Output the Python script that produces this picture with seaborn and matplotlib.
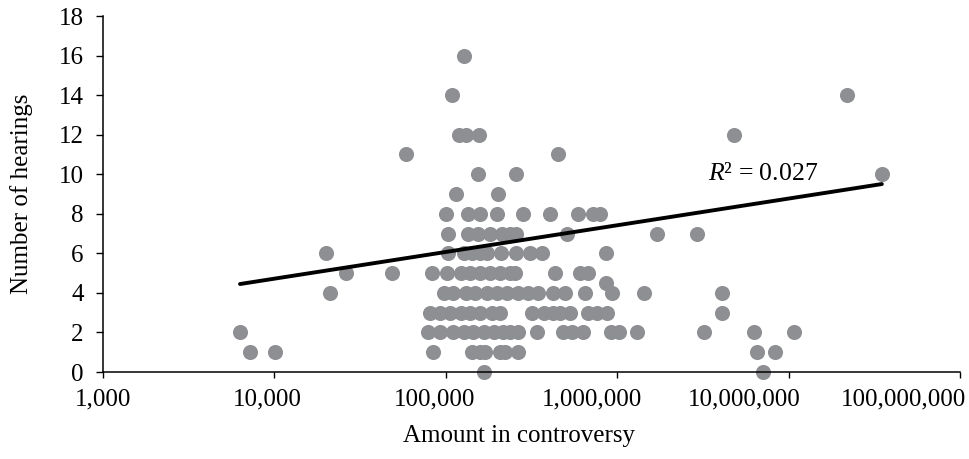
import numpy as np
import pandas as pd
import matplotlib
matplotlib.use("Agg")
import matplotlib.pyplot as plt
from matplotlib.ticker import FixedLocator, NullLocator
from matplotlib.transforms import ScaledTranslation
import seaborn as sns

# ------------------------------------------------------------------
# data (amount in controversy vs. hearings)
# ------------------------------------------------------------------
amount = [
    # y = 0
    168000, 7050000,
    # y = 1
    7200, 10100, 84600, 143000, 159000, 170000, 208000, 222000, 262000,
    6580000, 8300000,
    # y = 2
    6300, 79000, 93000, 110000, 127000, 145000, 166000, 190000, 217000,
    238000, 265000, 342000, 484000, 546000, 634000, 914000, 1020000,
    1310000, 3200000, 6280000, 10800000,
    # y = 3
    81000, 93000, 106000, 122000, 139000, 159000, 187000, 208000, 318000,
    372000, 424000, 465000, 532000, 678000, 764000, 873000, 4100000,
    # y = 4
    21200, 97000, 110000, 131000, 149000, 175000, 200000, 228000, 265000,
    303000, 346000, 424000, 497000, 652000, 936000, 1430000, 4100000,
    # y = 4.5
    862000,
    # y = 5
    26000, 48600, 83600, 102000, 122000, 139000, 159000, 182000, 208000,
    238000, 255000, 436000, 609000, 678000,
    # y = 6
    20000, 103000, 127000, 143000, 159000, 175000, 211000, 258000, 309000,
    366000, 862000,
    # y = 7
    103000, 134000, 155000, 182000, 214000, 238000, 258000, 509000,
    1710000, 2940000,
    # y = 8
    100000, 134000, 159000, 200000, 283000, 407000, 593000, 725000, 795000,
    # y = 9
    115000, 202000,
    # y = 10
    155000, 258000, 35000000,
    # y = 11
    58500, 453000,
    # y = 12
    120000, 132000, 157000, 4800000,
    # y = 14
    108000, 22000000,
    # y = 16
    127000,
]
hearings = (
    [0] * 2 + [1] * 11 + [2] * 21 + [3] * 17 + [4] * 17 + [4.5] * 1
    + [5] * 14 + [6] * 11 + [7] * 10 + [8] * 9 + [9] * 2 + [10] * 3
    + [11] * 2 + [12] * 4 + [14] * 2 + [16] * 1
)

# logarithmic trendline as printed in the original: y = a + b * log10(x)
trend_intercept = -0.68
trend_slope = 1.35
r_squared = 0.027

x_ticks = [1e3, 1e4, 1e5, 1e6, 1e7, 1e8]
y_ticks = list(range(0, 19, 2))
# horizontal nudges (px) of the x tick labels, as laid out in the original
label_nudge_px = [0, -7, -11, -25, -44, -57]

df = pd.DataFrame({"amount": amount, "hearings": hearings})

x_ends = np.array([df["amount"].min(), df["amount"].max()])
df_trend = pd.DataFrame({
    "amount": x_ends,
    "hearings": trend_intercept + trend_slope * np.log10(x_ends),
})

# ------------------------------------------------------------------
# style
# ------------------------------------------------------------------
sns.set_theme(style="ticks")
plt.rcParams["font.family"] = ["Liberation Serif", "DejaVu Serif"]
plt.rcParams["font.size"] = 18
plt.rcParams["mathtext.fontset"] = "custom"
plt.rcParams["mathtext.rm"] = "Liberation Serif"
plt.rcParams["mathtext.it"] = "Liberation Serif:italic"

DOT = "#8e8f93"

fig = plt.figure(figsize=(9.7, 4.59), dpi=100)
ax = fig.add_axes([0.1062, 0.1895, 0.8835, 0.7756])

sns.scatterplot(data=df, x="amount", y="hearings", color=DOT, s=118,
                linewidth=0, alpha=1, ax=ax, clip_on=False, zorder=2)
sns.lineplot(data=df_trend, x="amount", y="hearings", color="black",
             lw=2.8, ax=ax, zorder=3)

ax.set_xscale("log")
ax.set_xlim(1e3, 1e8)
ax.set_ylim(0, 18)
ax.xaxis.set_major_locator(FixedLocator(x_ticks))
ax.xaxis.set_minor_locator(NullLocator())
ax.set_xticklabels([f"{int(v):,}" for v in x_ticks])
ax.set_yticks(y_ticks)

ax.tick_params(axis="x", direction="out", length=4, width=1, pad=8,
               labelsize=18, colors="black")
ax.tick_params(axis="y", direction="out", length=5, width=1, pad=9,
               labelsize=18, colors="black")
for tick, dx in zip(ax.xaxis.get_major_ticks(), label_nudge_px):
    lab = tick.label1
    lab.set_transform(lab.get_transform()
                      + ScaledTranslation(dx / 100, 0, fig.dpi_scale_trans))

sns.despine(ax=ax)
for side in ["left", "bottom"]:
    ax.spines[side].set_color("black")
    ax.spines[side].set_linewidth(1.1)

ax.set_xlabel("Amount in controversy", fontsize=18, color="black")
ax.set_ylabel("Number of hearings", fontsize=18, color="black")
ax.xaxis.set_label_coords(0.4855, -0.148)
ax.yaxis.set_label_coords(-0.0817, 0.5)

ax.text(3.4e6, 10, f"$R$² = {r_squared}", fontsize=18.5, ha="left",
        va="center", color="black")

fig.savefig("out.png", dpi=100)
